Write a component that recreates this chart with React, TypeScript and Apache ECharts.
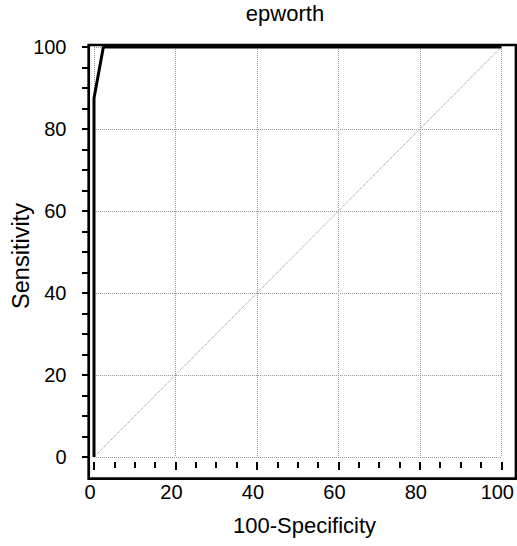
import React, { useEffect, useRef } from "react";
import * as echarts from "echarts";

const chartTitle = "epworth";
const xName = "100-Specificity";
const yName = "Sensitivity";
const tickValues = [0, 20, 40, 60, 80, 100];
const rocSpecificity = [0, 0, 2.3, 100];
const rocSensitivity = [0, 87.5, 100, 100];
const refX = [0, 100];
const refY = [0, 100];

const FONT = '"Liberation Sans", Arial, Helvetica, sans-serif';

export default function App() {
  const ref = useRef<HTMLDivElement>(null);
  useEffect(() => {
    const chart = echarts.init(ref.current!, null, { renderer: "svg" });
    const rocData = rocSpecificity.map((x, i) => [x, rocSensitivity[i]]);
    const refData = refX.map((x, i) => [x, refY[i]]);
    const tickMin = tickValues[0];
    const tickMax = tickValues[tickValues.length - 1];
    const tickStep = tickValues[1] - tickValues[0];
    chart.setOption({
      animation: false,
      backgroundColor: "#fff",
      grid: { left: 94, right: 13, top: 47, bottom: 89 },
      xAxis: {
        type: "value",
        min: tickMin,
        max: tickMax,
        interval: tickStep,
        offset: 5,
        axisLine: { show: false, onZero: false },
        axisTick: { show: true, length: 8, lineStyle: { color: "#000", width: 2 } },
        minorTick: { show: true, splitNumber: 4, length: 6, lineStyle: { color: "#000", width: 2 } },
        axisLabel: {
          margin: 19.5,
          fontSize: 20,
          color: "#000",
          fontFamily: FONT,
          padding: [0, 8, 0, 0],
        },
        splitLine: { show: true, lineStyle: { color: "#999", type: "dotted", width: 1 } },
        minorSplitLine: { show: false },
      },
      yAxis: {
        type: "value",
        min: tickMin,
        max: tickMax,
        interval: tickStep,
        offset: 6,
        axisLine: { show: false, onZero: false },
        axisTick: { show: true, length: 6, lineStyle: { color: "#000", width: 2 } },
        minorTick: { show: true, splitNumber: 4, length: 6, lineStyle: { color: "#000", width: 2 } },
        axisLabel: {
          margin: 21.5,
          fontSize: 20,
          color: "#000",
          fontFamily: FONT,
          padding: [8, 0, 0, 0],
        },
        splitLine: { show: true, lineStyle: { color: "#999", type: "dotted", width: 1 } },
        minorSplitLine: { show: false },
      },
      series: [
        {
          type: "line",
          data: refData,
          symbol: "none",
          clip: false,
          lineStyle: { color: "#888", width: 1, type: "dotted" },
          z: 2,
        },
        {
          type: "line",
          data: rocData,
          symbol: "none",
          clip: false,
          lineStyle: { color: "#000", width: 3 },
          z: 3,
        },
      ],
      graphic: [
        {
          type: "rect",
          z: 10,
          shape: { x: 88.7, y: 45, width: 427.3, height: 433.7 },
          style: { fill: "none", stroke: "#000", lineWidth: 2.7 },
        },
        {
          type: "text",
          x: 285,
          y: 13,
          style: {
            text: chartTitle,
            fontSize: 22,
            fontFamily: FONT,
            fill: "#000",
            align: "center",
            verticalAlign: "middle",
          },
        },
        {
          type: "text",
          x: 304.5,
          y: 525.4,
          style: {
            text: xName,
            fontSize: 22,
            fontFamily: FONT,
            fill: "#000",
            align: "center",
            verticalAlign: "middle",
          },
        },
        {
          type: "text",
          x: 20.5,
          y: 256,
          rotation: Math.PI / 2,
          style: {
            text: yName,
            fontSize: 23.5,
            fontFamily: FONT,
            fill: "#000",
            align: "center",
            verticalAlign: "middle",
          },
        },
      ],
    });
    return () => chart.dispose();
  }, []);
  return (
    <div
      ref={ref}
      style={{ position: "absolute", left: 0, top: 0, width: 517, height: 546, background: "#fff" }}
    />
  );
}
